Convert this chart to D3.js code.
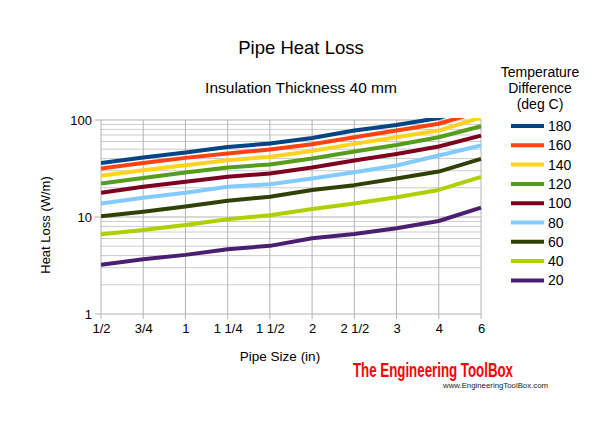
<!DOCTYPE html>
<html>
<head>
<meta charset="utf-8">
<script src="https://cdn.jsdelivr.net/npm/d3@7"></script>
<style>
body { margin: 0; background: #fff; }
svg { font-family: "Liberation Sans", Arial, sans-serif; }
</style>
</head>
<body>
<svg id="chart" width="600" height="426"></svg>
<script>
var sizes = ["1/2", "3/4", "1", "1 1/4", "1 1/2", "2", "2 1/2", "3", "4", "6"];
var temps = [180, 160, 140, 120, 100, 80, 60, 40, 20];
var colors = ["#004586", "#ff420e", "#ffd320", "#579d1c", "#7e0021", "#83caff", "#314004", "#aecf00", "#4b1f6f"];

// heat loss W/m, one row per temperature difference
var loss180 = [36.1, 41.1, 46.2, 52.8, 57.2, 65.3, 77.8, 88.8, 104.9, 140];
var loss160 = [31.7, 36.1, 40.7, 45.2, 49.6, 56.3, 66.4, 77.8, 91.4, 122.9];
var loss140 = [26.6, 30.4, 34.2, 38.5, 41.7, 48.0, 56.7, 66.4, 77.8, 105.8];
var loss120 = [22.2, 25.3, 28.8, 32.4, 34.8, 40.1, 47.3, 55.3, 66.4, 86.1];
var loss100 = [17.8, 20.5, 23.1, 26.0, 28.1, 32.4, 38.3, 44.7, 53.3, 69.1];
var loss80 = [13.8, 15.8, 17.8, 20.5, 21.8, 25.0, 29.0, 34.0, 43.1, 54.6];
var loss60 = [10.2, 11.3, 12.8, 14.7, 16.2, 19.0, 21.3, 24.9, 29.4, 39.7];
var loss40 = [6.64, 7.35, 8.28, 9.5, 10.4, 12.1, 13.8, 16.0, 19.0, 25.9];
var loss20 = [3.21, 3.67, 4.07, 4.66, 5.04, 6.04, 6.69, 7.65, 9.1, 12.5];
var series = [loss180, loss160, loss140, loss120, loss100, loss80, loss60, loss40, loss20];

var svg = d3.select("#chart");
var pLeft = 101, pRight = 481, pTop = 120, pBottom = 314;

var x = d3.scalePoint().domain(sizes).range([pLeft, pRight]);
var y = d3.scaleLog().domain([1, 100]).range([pBottom, pTop]);

// titles
svg.append("text").attr("x", 301).attr("y", 54).attr("text-anchor", "middle")
  .attr("font-size", 18.5).text("Pipe Heat Loss");
svg.append("text").attr("x", 301).attr("y", 93).attr("text-anchor", "middle")
  .attr("font-size", 15.5).text("Insulation Thickness 40 mm");

// minor grid
var minor = [];
[1, 10].forEach(function(d) { for (var k = 2; k <= 9; k++) minor.push(d * k); });
svg.append("g").selectAll("line").data(minor).enter().append("line")
  .attr("x1", pLeft).attr("x2", pRight)
  .attr("y1", function(d) { return y(d); }).attr("y2", function(d) { return y(d); })
  .attr("stroke", "#cccccc").attr("stroke-width", 1);

// major grid
svg.append("g").selectAll("line").data([1, 10, 100]).enter().append("line")
  .attr("x1", pLeft - 6).attr("x2", pRight)
  .attr("y1", function(d) { return y(d); }).attr("y2", function(d) { return y(d); })
  .attr("stroke", "#b3b3b3").attr("stroke-width", 1);

svg.append("g").selectAll("line").data(sizes).enter().append("line")
  .attr("x1", function(d) { return x(d); }).attr("x2", function(d) { return x(d); })
  .attr("y1", pTop).attr("y2", pBottom + 5)
  .attr("stroke", "#b3b3b3").attr("stroke-width", 1);

// axes
var yAxis = d3.axisLeft(y).tickValues([1, 10, 100]).tickFormat(d3.format("d")).tickSize(0).tickPadding(9);
var gy = svg.append("g").attr("transform", "translate(" + pLeft + ",0)").call(yAxis);
gy.select(".domain").remove();
gy.selectAll("text").attr("font-size", 13).attr("font-family", "Liberation Sans, Arial, sans-serif").attr("fill", "#000");

var xAxis = d3.axisBottom(x).tickSize(0).tickPadding(10);
var gx = svg.append("g").attr("transform", "translate(0," + pBottom + ")").call(xAxis);
gx.select(".domain").remove();
gx.selectAll("text").attr("font-size", 13).attr("font-family", "Liberation Sans, Arial, sans-serif").attr("fill", "#000");

svg.append("text").attr("transform", "translate(50,225) rotate(-90)").attr("text-anchor", "middle")
  .attr("font-size", 13).text("Heat Loss (W/m)");
svg.append("text").attr("x", 280).attr("y", 361).attr("text-anchor", "middle")
  .attr("font-size", 13.5).text("Pipe Size (in)");

// lines
svg.append("clipPath").attr("id", "plotclip").append("rect")
  .attr("x", pLeft).attr("y", pTop - 2).attr("width", pRight - pLeft + 4).attr("height", pBottom - pTop + 2);

var line = d3.line()
  .x(function(d, i) { return x(sizes[i]); })
  .y(function(d) { return y(d); });

svg.append("g").attr("clip-path", "url(#plotclip)")
  .selectAll("path").data(series).enter().append("path")
  .attr("d", line)
  .attr("fill", "none")
  .attr("stroke", function(d, i) { return colors[i]; })
  .attr("stroke-width", 4)
  .attr("stroke-linejoin", "round");

// legend
var lg = svg.append("g");
["Temperature", "Difference", "(deg C)"].forEach(function(t, i) {
  lg.append("text").attr("x", 540).attr("y", 77 + i * 16).attr("text-anchor", "middle")
    .attr("font-size", 14).text(t);
});
var item = lg.selectAll("g.item").data(temps).enter().append("g").attr("class", "item")
  .attr("transform", function(d, i) { return "translate(0," + (126 + i * 19.3) + ")"; });
item.append("line").attr("x1", 511).attr("x2", 544)
  .attr("stroke", function(d, i) { return colors[i]; }).attr("stroke-width", 4);
item.append("text").attr("x", 548).attr("y", 5).attr("font-size", 14).text(function(d) { return d; });

// logo
svg.append("text").attr("x", 353).attr("y", 377)
  .attr("font-family", "Liberation Sans Narrow, Arial Narrow, sans-serif").attr("font-weight", "bold")
  .attr("font-size", 20).attr("fill", "#ff0000")
  .attr("textLength", 160).attr("lengthAdjust", "spacingAndGlyphs").text("The Engineering ToolBox");
svg.append("text").attr("x", 443).attr("y", 388).attr("font-size", 7.5).attr("fill", "#222")
  .attr("textLength", 105).attr("lengthAdjust", "spacingAndGlyphs").text("www.EngineeringToolBox.com");
</script>
</body>
</html>
